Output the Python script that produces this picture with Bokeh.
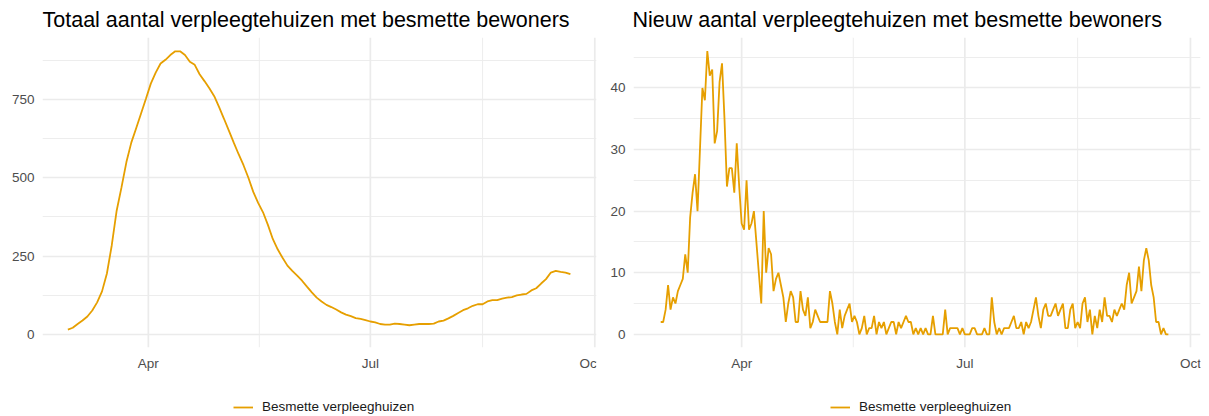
import pandas as pd
from bokeh.plotting import figure
from bokeh.layouts import row
from bokeh.models import (Range1d, FixedTicker, DatetimeTickFormatter, Legend,
                          LegendItem, ColumnDataSource)
from bokeh.embed import file_html
from bokeh.resources import INLINE

# ---------------- data ----------------
series_label = "Besmette verpleeghuizen"
title_total = "Totaal aantal verpleegtehuizen met besmette bewoners"
title_new = "Nieuw aantal verpleegtehuizen met besmette bewoners"

# total (current) number of nursing homes with infected residents, read every 2 days from 2020-02-28
total_start = "2020-02-28"
total_step_days = 2
total_values = [16, 22, 34, 45, 58, 77, 103, 138, 195, 285,
                395, 470, 550, 612, 658, 705, 752, 800, 835, 864,
                876, 891, 903, 903, 891, 870, 860, 830, 808, 785,
                760, 725, 688, 650, 612, 575, 540, 500, 455, 420,
                390, 350, 305, 272, 245, 220, 203, 188, 172, 153,
                135, 118, 106, 95, 88, 80, 71, 64, 59, 53,
                50, 46, 42, 39, 34, 32, 32, 35, 34, 32,
                30, 32, 34, 34, 34, 35, 42, 45, 52, 60,
                69, 78, 84, 92, 97, 97, 106, 110, 110, 115,
                118, 120, 125, 128, 130, 141, 148, 163, 177, 198,
                203, 200, 198, 193]

# new nursing homes with infected residents per day, from 2020-02-28
new_start = "2020-02-28"
new_values = [2, 2, 4, 8, 4, 6, 5, 7, 8, 9, 13, 10, 19, 23, 26, 20, 30, 40, 38, 46,
              42, 43, 31, 33, 41, 44, 35, 24, 27, 27, 23, 31, 24, 18, 17, 25, 17, 18, 20, 15,
              10, 5, 20, 10, 14, 13, 7, 9, 10, 8, 6, 2, 5, 7, 6, 2, 2, 7,
              4, 3, 6, 1, 2, 4, 3, 2, 2, 2, 2, 7, 5,
              2, 0, 4, 1, 3, 4, 5, 2, 3, 2, 0, 1, 3, 0, 1, 1, 3, 0, 2, 1, 2, 0, 1, 2, 2, 0, 2, 1, 2, 3, 2,
              2, 0, 1, 0, 1, 0, 1, 0, 0, 3, 0, 0, 0, 0, 4, 0, 1, 1, 1, 1, 0, 1, 0, 0, 0, 1, 1, 0, 0, 0, 1, 0, 0, 6,
              2, 0, 1, 0, 1, 1, 1, 2, 3, 1, 1, 2, 0, 2, 1, 2, 4, 6, 3, 1, 4, 5, 3, 3, 4, 5, 3, 4, 5, 1, 1, 4, 5, 1, 2, 1, 5, 6,
              2, 4, 0, 3, 1, 4, 2, 6, 3, 3, 2, 4, 3, 4, 5, 4, 8, 10, 5, 6, 7, 11, 7, 12, 14, 12, 8, 6, 2, 2, 0, 1, 0, 0]

month_ticks = ["2020-04-01", "2020-07-01", "2020-10-01"]
month_minor_ticks = ["2020-05-16 12:00", "2020-08-16"]
total_yticks = [0, 250, 500, 750]
total_yminor = [125, 375, 625, 875]
new_yticks = [0, 10, 20, 30, 40]
new_yminor = [5, 15, 25, 35, 45]

# ---------------- styling / layout ----------------
LINE = "#E69F00"
GRID = "#EBEBEB"
FONT = "Liberation Sans"
FIG_H = 416
TOP = 33          # frame top
PANEL_H = 313     # height of the data panel inside the frame
DAY_MS = 86400000


def ms(t):
    return pd.Timestamp(t).value // 10**6


def make_panel(dates, values, title, yticks, yminor, yrange, xpad_days,
               width, bl, br, legend_x, title_offset):
    frame_h = FIG_H - TOP
    y0, y1 = yrange
    y_lo = y0 - (y1 - y0) * (frame_h - PANEL_H) / PANEL_H
    x_start = ms(month_ticks[0]) - xpad_days[0] * DAY_MS
    x_end = ms(month_ticks[-1]) + xpad_days[1] * DAY_MS

    p = figure(width=width, height=FIG_H, x_axis_type="datetime",
               output_backend="svg", toolbar_location=None,
               x_range=Range1d(x_start, x_end),
               y_range=Range1d(y_lo, y1),
               min_border_left=bl, min_border_right=br,
               min_border_top=TOP, min_border_bottom=0)
    p.outline_line_color = None
    p.background_fill_color = "white"
    p.border_fill_color = "white"

    p.title.text = title
    p.title.text_font = FONT
    p.title.text_font_size = "21.5px"
    p.title.text_font_style = "normal"
    p.title.text_color = "black"
    p.title.align = "left"
    p.title.offset = title_offset
    p.title.standoff = 11

    p.xaxis.ticker = FixedTicker(ticks=[ms(t) for t in month_ticks])
    p.xaxis.formatter = DatetimeTickFormatter(months="%b", days="%b", years="%b",
                                              hours="%b", minutes="%b")
    p.xaxis.fixed_location = y0
    p.yaxis.ticker = FixedTicker(ticks=yticks, minor_ticks=yminor)
    for ax in (p.xaxis, p.yaxis):
        ax.axis_line_color = None
        ax.major_tick_line_color = None
        ax.minor_tick_line_color = None
        ax.major_tick_out = 0
        ax.minor_tick_out = 0
        ax.major_label_text_font = FONT
        ax.major_label_text_font_size = "13.5px"
        ax.major_label_text_color = "#4D4D4D"
    p.xaxis.major_label_standoff = 9
    p.yaxis.major_label_standoff = 8

    p.xgrid.visible = False
    p.ygrid.grid_line_color = GRID
    p.ygrid.grid_line_width = 1.7
    p.ygrid.minor_grid_line_color = GRID
    p.ygrid.minor_grid_line_width = 0.9

    # vertical grid lines limited to the data panel
    major_x = [ms(t) for t in month_ticks]
    minor_x = [ms(t) for t in month_minor_ticks]
    p.segment(x0=major_x, y0=[y0] * len(major_x), x1=major_x, y1=[y1] * len(major_x),
              line_color=GRID, line_width=1.7, level="underlay")
    p.segment(x0=minor_x, y0=[y0] * len(minor_x), x1=minor_x, y1=[y1] * len(minor_x),
              line_color=GRID, line_width=0.9, level="underlay")

    src = ColumnDataSource(dict(date=dates, value=values))
    r = p.line("date", "value", source=src, line_color=LINE, line_width=1.8)

    legend = Legend(items=[LegendItem(label=series_label, renderers=[r])],
                    location=(legend_x, 2), orientation="horizontal",
                    border_line_color=None, background_fill_alpha=0,
                    label_text_font=FONT, label_text_font_size="13.5px",
                    label_text_color="#1A1A1A",
                    glyph_width=20, glyph_height=14, label_standoff=9,
                    padding=0, margin=0, spacing=0)
    p.add_layout(legend, "center")
    return p


total_dates = pd.date_range(total_start, periods=len(total_values), freq=f"{total_step_days}D")
new_dates = pd.date_range(new_start, periods=len(new_values), freq="D")

p1 = make_panel(total_dates, total_values, title_total, total_yticks, total_yminor,
                (-40, 947), (43.4, 0.7), 600, 42, 4, 191, 0)
p2 = make_panel(new_dates, new_values, title_new, new_yticks, new_yminor,
                (-2.1, 48.2), (44.1, 4.1), 609, 33, 9, 197, -1)

layout = row(p1, p2)
open("out.html", "w").write(file_html(layout, INLINE))
